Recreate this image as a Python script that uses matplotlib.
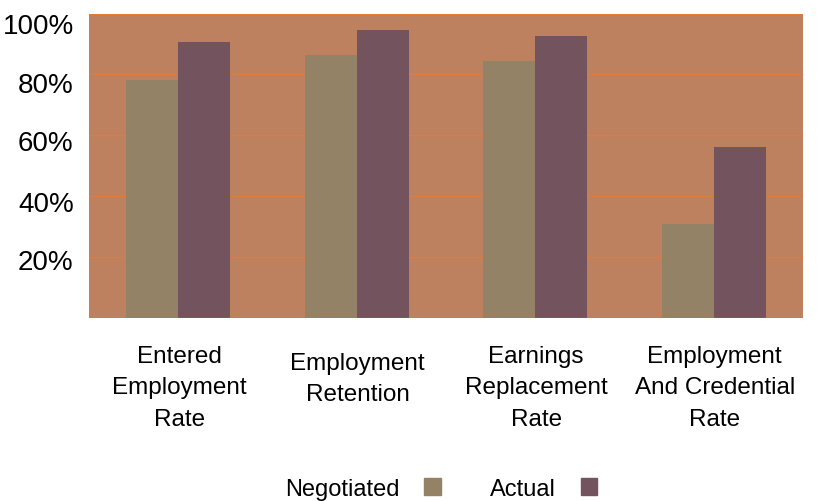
import matplotlib
matplotlib.use("Agg")
import matplotlib.pyplot as plt
import matplotlib.transforms as mtransforms
from matplotlib.patches import Patch

categories = ["Entered\nEmployment\nRate", "Employment\nRetention",
              "Earnings\nReplacement\nRate", "Employment\nAnd Credential\nRate"]
negotiated = [78, 86.5, 84.5, 31]
actual = [90.5, 94.5, 92.5, 56]
yticks = [20, 40, 60, 80, 100]
ytick_labels = ["20%", "40%", "60%", "80%", "100%"]

plt.rcParams['font.family'] = ['Liberation Sans', 'DejaVu Sans']

bg = "#BD8160"
grid_c = "#DE7C3C"
c_neg = "#938266"
c_act = "#72535E"

fig = plt.figure(figsize=(8.23, 5.02), dpi=100)
ax = fig.add_axes([89/823, 1 - 319/502, 714/823, 304.5/502])
ax.set_facecolor(bg)

x = list(range(len(categories)))
w = 0.29
ax.bar([i - w/2 for i in x], negotiated, w, color=c_neg, zorder=2)
ax.bar([i + w/2 for i in x], actual, w, color=c_act, zorder=2)

ax.set_xlim(-0.5, 3.5)
ax.set_ylim(0, 100)
for v in [0, 20, 40, 60, 80, 100]:
    ax.axhline(v, color=grid_c, lw=0.9, zorder=1 if 0 < v < 100 else 3)
for s in ax.spines.values():
    s.set_visible(False)

ax.set_yticks(yticks)
ax.set_yticklabels(ytick_labels, fontsize=20)
ax.tick_params(axis='y', length=0, pad=11)
ax.set_xticks([])

# labels in the original sit a little below their gridlines
shifts = [2, 5, 5, 8, 10]
for lab, d in zip(ax.get_yticklabels(), shifts):
    lab.set_transform(lab.get_transform() +
                      mtransforms.ScaledTranslation(0, -d / 100, fig.dpi_scale_trans))

for i, lab in zip(x, categories):
    off = -7 if lab.count("\n") == 1 else 0
    ax.annotate(lab, xy=(i, 0), xycoords=('data', 'axes fraction'),
                xytext=(1, -27 + off), textcoords='offset pixels',
                ha='center', va='top', fontsize=17.5, linespacing=1.55)

handles = [Patch(color=c_neg, label="Negotiated"), Patch(color=c_act, label="Actual")]
fig.legend(handles=handles, loc='center', bbox_to_anchor=(441/823, 1 - 490/502),
           ncol=2, frameon=False, markerfirst=False, fontsize=17,
           handlelength=0.7, handleheight=0.75, handletextpad=1.05,
           columnspacing=2.1)

fig.savefig("out.png", dpi=100)
